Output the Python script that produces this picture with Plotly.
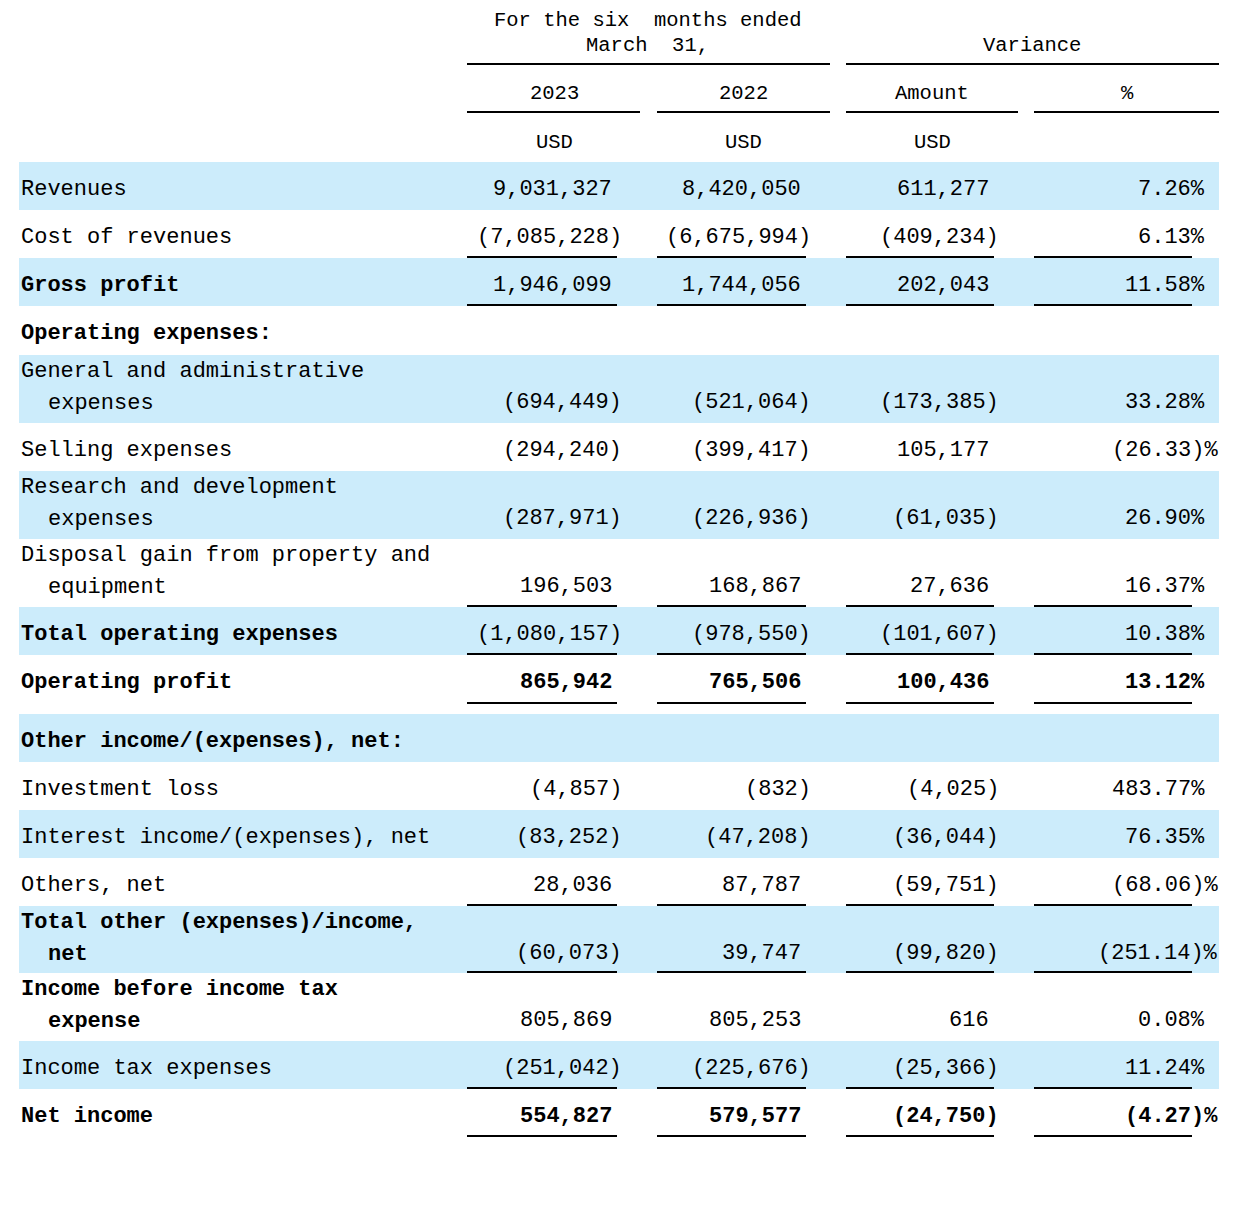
import plotly.graph_objects as go

# ---------------- data ----------------
header_period = ["For the six\u00a0\u00a0months ended", "March\u00a0\u00a031,"]
header_variance = "Variance"
col_years = ["2023", "2022", "Amount", "%"]
col_units = ["USD", "USD", "USD", ""]

labels = [
    ["Revenues"],
    ["Cost of revenues"],
    ["Gross profit"],
    ["Operating expenses:"],
    ["General and administrative", "expenses"],
    ["Selling expenses"],
    ["Research and development", "expenses"],
    ["Disposal gain from property and", "equipment"],
    ["Total operating expenses"],
    ["Operating profit"],
    ["Other income/(expenses), net:"],
    ["Investment loss"],
    ["Interest income/(expenses), net"],
    ["Others, net"],
    ["Total other (expenses)/income,", "net"],
    ["Income before income tax", "expense"],
    ["Income tax expenses"],
    ["Net income"],
]

v2023 = [9031327, -7085228, 1946099, None, -694449, -294240, -287971, 196503,
         -1080157, 865942, None, -4857, -83252, 28036, -60073, 805869, -251042, 554827]
v2022 = [8420050, -6675994, 1744056, None, -521064, -399417, -226936, 168867,
         -978550, 765506, None, -832, -47208, 87787, 39747, 805253, -225676, 579577]
var_amount = [611277, -409234, 202043, None, -173385, 105177, -61035, 27636,
              -101607, 100436, None, -4025, -36044, -59751, -99820, 616, -25366, -24750]
var_pct = [7.26, 6.13, 11.58, None, 33.28, -26.33, 26.90, 16.37,
           10.38, 13.12, None, 483.77, 76.35, -68.06, -251.14, 0.08, 11.24, -4.27]

bold_label = [False, False, True, True, False, False, False, False, True, True,
              True, False, False, False, True, True, False, True]
bold_value = [False] * 9 + [True] + [False] * 7 + [True]
shaded = [True, False, True, False, True, False, True, False, True, False,
          True, False, True, False, True, False, True, False]
underlined = [False, True, True, False, False, False, False, True, True, True,
              False, False, False, True, True, False, True, True]

# ---------------- layout config ----------------
W, H = 1245, 1218
PAGE_MARGIN = 8  # default body margin of the html page
FONT = "Liberation Mono"
BODY = 22
HEAD = 20.5
row_h = [48, 48, 48, 49, 68, 48, 68, 68, 48, 49, 48, 48, 48, 48, 67, 68, 48, 48]
gap_after = [0] * 9 + [10] + [0] * 8
table_top = 162
band_x = (19, 1219)
band_color = "#CCECFB"
col_right = [614, 803, 991, 1207]
neg_shift = [10, 10, 10, 13]
col_line = [(467, 617), (657, 806), (846, 994), (1034, 1192)]
head_line_y1 = 64
head_line_y2 = 112
head_lines1 = [(467, 830), (846, 1219)]
head_lines2 = [(467, 640), (657, 830), (846, 1018), (1034, 1219)]
col_center = [554, 743, 932, 1127]


def fmt_num(v):
    s = f"{abs(v):,}"
    return f"({s})" if v < 0 else s


def fmt_pct(v):
    s = f"{abs(v):.2f}"
    return f"({s})%" if v < 0 else f"{s}%"


fig = go.Figure()
shapes = []
ann = []


def text(x, y, t, anchor="left", size=BODY, bold=False):
    ann.append(dict(x=x, y=y, xref="x", yref="y", text=f"<b>{t}</b>" if bold else t,
                    showarrow=False, xanchor=anchor, yanchor="middle",
                    font=dict(family=FONT, size=size, color="black")))


# header
text(648, 20, header_period[0], "center", HEAD)
text(647, 45, header_period[1], "center", HEAD)
text(1032, 45, header_variance, "center", HEAD)
for x0, x1 in head_lines1:
    shapes.append(dict(type="line", x0=x0, x1=x1, y0=head_line_y1, y1=head_line_y1,
                       line=dict(color="black", width=2)))
for i, t in enumerate(col_years):
    text(col_center[i], 93, t, "center", HEAD)
for x0, x1 in head_lines2:
    shapes.append(dict(type="line", x0=x0, x1=x1, y0=head_line_y2, y1=head_line_y2,
                       line=dict(color="black", width=2)))
for i, t in enumerate(col_units):
    if t:
        text(col_center[i], 142, t, "center", HEAD)

# body
top = table_top
cols = [v2023, v2022, var_amount, var_pct]
for r, lab in enumerate(labels):
    h = row_h[r]
    if shaded[r]:
        shapes.append(dict(type="rect", x0=band_x[0], x1=band_x[1], y0=top, y1=top + h,
                           fillcolor=band_color, line=dict(width=0), layer="below"))
    if len(lab) == 1:
        text(19, top + 27, lab[0], "left", BODY, bold_label[r])
        vy = top + 27
    else:
        text(19, top + 16, lab[0], "left", BODY, bold_label[r])
        text(46, top + 48, lab[1], "left", BODY, bold_label[r])
        vy = top + 47
    for c, arr in enumerate(cols):
        v = arr[r]
        if v is None:
            continue
        s = fmt_pct(v) if c == 3 else fmt_num(v)
        x = col_right[c] + (neg_shift[c] if v < 0 else 0)
        text(x, vy, s, "right", BODY, bold_value[r])
    if underlined[r]:
        ly = top + h - 1
        for x0, x1 in col_line:
            shapes.append(dict(type="line", x0=x0, x1=x1, y0=ly, y1=ly,
                               line=dict(color="black", width=2)))
    top += h + gap_after[r]

fig_w = W - 2 * PAGE_MARGIN
fig_h = H - 2 * PAGE_MARGIN
fig.update_layout(
    width=fig_w, height=fig_h, margin=dict(l=0, r=0, t=0, b=0),
    paper_bgcolor="white", plot_bgcolor="white", showlegend=False,
    xaxis=dict(range=[PAGE_MARGIN, PAGE_MARGIN + fig_w], visible=False, fixedrange=True),
    yaxis=dict(range=[PAGE_MARGIN + fig_h, PAGE_MARGIN], visible=False, fixedrange=True),
    shapes=shapes, annotations=ann,
)
fig.write_html("out.html")
